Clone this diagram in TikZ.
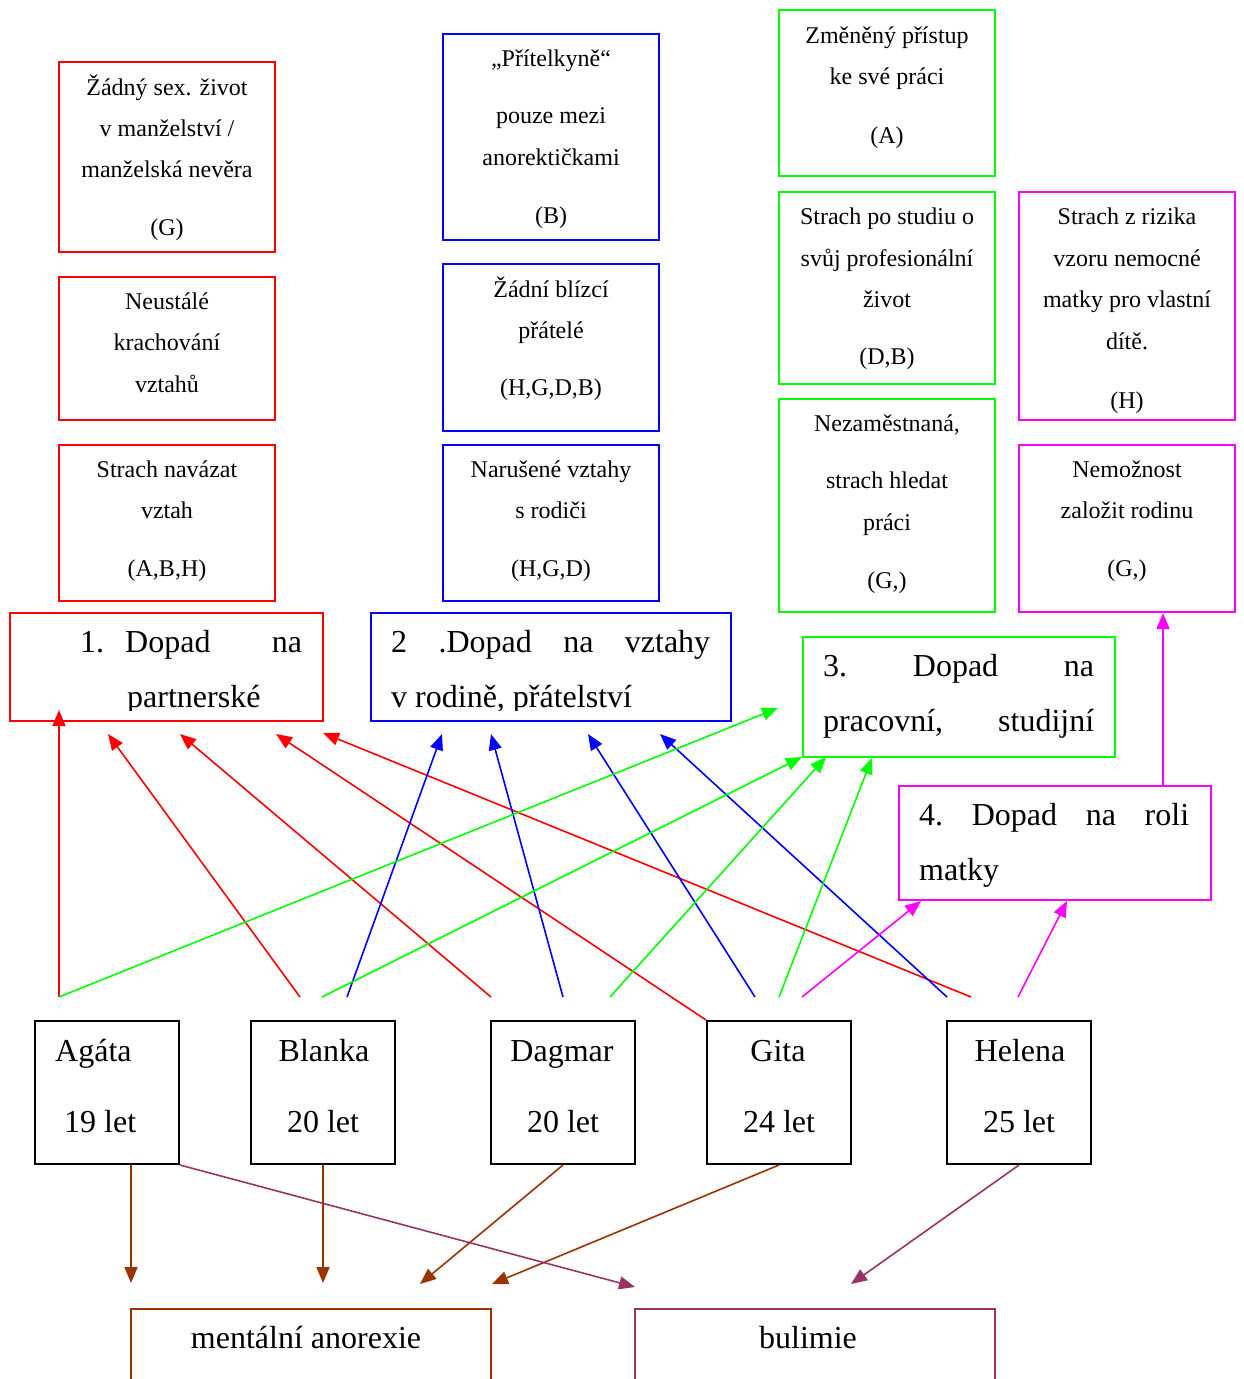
\documentclass[tikz,border=0pt]{standalone}
\usepackage{fontspec}
\setmainfont{Liberation Serif}
\usetikzlibrary{arrows.meta}
\definecolor{dbrown}{RGB}{153,51,0}
\definecolor{dpurple}{RGB}{153,51,102}
\definecolor{cred}{RGB}{255,0,0}
\definecolor{cblue}{RGB}{0,0,255}
\definecolor{cgreen}{RGB}{0,255,0}
\definecolor{cmag}{RGB}{255,0,255}
\newcommand\mkbox[6]{\node[bx,#2,minimum width={#5-#3},minimum height={#6-#4}] (#1) at ({(#3+#5)/2},{(#4+#6)/2}) {};}
\newcommand\tline[4]{\node[sm] (#1) at (#2,#3) {#4};}
\begin{document}
\begin{tikzpicture}[x=1pt,y=-1pt,
  sm/.style={anchor=base, inner sep=0pt, font=\fontsize{24}{28}\selectfont},
  lg/.style={anchor=base west, inner sep=0pt, font=\fontsize{32}{38}\selectfont},
  lgc/.style={lg, anchor=base},
  bx/.style={draw, line width=2pt, inner sep=0pt, rectangle},
  arr/.style={line width=1.6pt, -{Triangle[length=16pt,width=13pt]}},
]
\useasboundingbox (0,0) rectangle (1244,1379);

% ---- top boxes
\mkbox{r1}{draw=cred}{59}{62}{275}{252}
\mkbox{r2}{draw=cred}{59}{277}{275}{420}
\mkbox{r3}{draw=cred}{59}{445}{275}{601}
\mkbox{b1}{draw=cblue}{443}{34}{659}{240}
\mkbox{b2}{draw=cblue}{443}{264}{659}{431}
\mkbox{b3}{draw=cblue}{443}{445}{659}{601}
\mkbox{g1}{draw=cgreen}{779}{10}{995}{176}
\mkbox{g2}{draw=cgreen}{779}{192}{995}{384}
\mkbox{g3}{draw=cgreen}{779}{399}{995}{612}
\mkbox{m1}{draw=cmag}{1019}{192}{1235}{420}
\mkbox{m2}{draw=cmag}{1019}{445}{1235}{612}

\tline{r1a}{167}{95}{Žádný sex. život}
\tline{r1b}{167}{136}{v manželství /}
\tline{r1c}{167}{177}{manželská nevěra}
\tline{r1d}{167}{235}{(G)}
\tline{r2a}{167}{309}{Neustálé}
\tline{r2b}{167}{350}{krachování}
\tline{r2c}{167}{392}{vztahů}
\tline{r3a}{167}{477}{Strach navázat}
\tline{r3b}{167}{518}{vztah}
\tline{r3c}{167}{576}{(A,B,H)}

\tline{b1a}{551}{66}{„Přítelkyně“}
\tline{b1b}{551}{123}{pouze mezi}
\tline{b1c}{551}{165}{anorektičkami}
\tline{b1d}{551}{223}{(B)}
\tline{b2a}{551}{297}{Žádní blízcí}
\tline{b2b}{551}{338}{přátelé}
\tline{b2c}{551}{395}{(H,G,D,B)}
\tline{b3a}{551}{477}{Narušené vztahy}
\tline{b3b}{551}{518}{s rodiči}
\tline{b3c}{551}{576}{(H,G,D)}

\tline{g1a}{887}{43}{Změněný přístup}
\tline{g1b}{887}{84}{ke své práci}
\tline{g1c}{887}{143}{(A)}
\tline{g2a}{887}{224}{Strach po studiu o}
\tline{g2b}{887}{266}{svůj profesionální}
\tline{g2c}{887}{307}{život}
\tline{g2d}{887}{364}{(D,B)}
\tline{g3a}{887}{431}{Nezaměstnaná,}
\tline{g3b}{887}{488}{strach hledat}
\tline{g3c}{887}{530}{práci}
\tline{g3d}{887}{588}{(G,)}

\tline{m1a}{1127}{224}{Strach z rizika}
\tline{m1b}{1127}{266}{vzoru nemocné}
\tline{m1c}{1127}{307}{matky pro vlastní}
\tline{m1d}{1127}{349}{dítě.}
\tline{m1e}{1127}{408}{(H)}
\tline{m2a}{1127}{477}{Nemožnost}
\tline{m2b}{1127}{518}{založit rodinu}
\tline{m2c}{1127}{576}{(G,)}

% ---- category boxes
\mkbox{c1}{draw=cred}{10}{613}{323}{721}
\mkbox{c2}{draw=cblue}{371}{613}{731}{721}
\mkbox{c3}{draw=cgreen}{803}{637}{1115}{757}
\mkbox{c4}{draw=cmag}{899}{786}{1211}{900}

\node[lg] (c1a) at (80,652) {\hbox to 45pt{1.\hfill}\hbox to 177pt{Dopad\hfill na}};
\node[lg] (c2a) at (391,652) {\hbox to 319pt{2\hfill .Dopad\hfill na\hfill vztahy}};
\begin{scope}
  \clip (10,613) rectangle (731,710);
  \node[lg] (c1b) at (127,707) {partnerské};
  \node[lg] (c2b) at (391,707) {v rodině, přátelství};
\end{scope}
\node[lg] (c3a) at (823,676) {\hbox to 271pt{3.\hfill Dopad\hfill na}};
\node[lg] (c3b) at (823,731) {\hbox to 271pt{pracovní,\hfill studijní}};
\node[lg] (c4a) at (919,825) {\hbox to 270pt{4.\hfill Dopad\hfill na\hfill roli}};
\node[lg] (c4b) at (919,880) {matky};

% ---- persons
\mkbox{agata}{draw=black}{35}{1021}{179}{1164}
\mkbox{blanka}{draw=black}{251}{1021}{395}{1164}
\mkbox{dagmar}{draw=black}{491}{1021}{635}{1164}
\mkbox{gita}{draw=black}{707}{1021}{851}{1164}
\mkbox{helena}{draw=black}{947}{1021}{1091}{1164}

\node[lg] (agata1) at (55,1061) {Agáta};
\node[lg] (agata2) at (64,1132) {19 let};
\node[lgc] (blanka1) at (324,1061) {Blanka};
\node[lgc] (blanka2) at (323,1132) {20 let};
\node[lgc] (dagmar1) at (562,1061) {Dagmar};
\node[lgc] (dagmar2) at (563,1132) {20 let};
\node[lgc] (gita1) at (778,1061) {Gita};
\node[lgc] (gita2) at (779,1132) {24 let};
\node[lgc] (helena1) at (1020,1061) {Helena};
\node[lgc] (helena2) at (1019,1132) {25 let};

% ---- diseases
\mkbox{anor}{draw=dbrown}{131}{1309}{491}{1440}
\mkbox{bul}{draw=dpurple}{635}{1309}{995}{1440}
\node[lgc] (anort) at (306,1348) {mentální anorexie};
\node[lgc] (bult) at (808,1348) {bulimie};

% ---- coordinates for free ends
\coordinate (rA0) at (59,997);   \coordinate (rA1) at (59,710);
\coordinate (rB0) at (300,997);  \coordinate (rB1) at (108,734);
\coordinate (rD0) at (491,997);  \coordinate (rD1) at (180,734);
\coordinate (rG1) at (276,734);
\coordinate (rH0) at (971,997);  \coordinate (rH1) at (323,733);
\coordinate (bB0) at (347,997);  \coordinate (bB1) at (442,734);
\coordinate (bD0) at (563,997);  \coordinate (bD1) at (491,734);
\coordinate (bG0) at (755,997);  \coordinate (bG1) at (588,734);
\coordinate (bH0) at (947,997);  \coordinate (bH1) at (660,734);
\coordinate (gA1) at (778,708);
\coordinate (gB0) at (322,997);  \coordinate (gB1) at (802,757);
\coordinate (gD0) at (610,997);  \coordinate (gD1) at (826,757);
\coordinate (gG0) at (779,997);  \coordinate (gG1) at (872,758);
\coordinate (mG0) at (802,997);  \coordinate (mG1) at (921,901);
\coordinate (mH0) at (1018,997); \coordinate (mH1) at (1067,901);
\coordinate (an1) at (131,1283);
\coordinate (an2) at (323,1283);
\coordinate (an3) at (420,1284);
\coordinate (an4) at (492,1284);
\coordinate (bu1) at (635,1287);
\coordinate (bu2) at (851,1284);

% ---- red
\draw[arr, cred] (rA0) -- (rA1);
\draw[arr, cred] (rB0) -- (rB1);
\draw[arr, cred] (rD0) -- (rD1);
\draw[arr, cred] (gita.north west) -- (rG1);
\draw[arr, cred] (rH0) -- (rH1);
% ---- blue
\draw[arr, cblue] (bB0) -- (bB1);
\draw[arr, cblue] (bD0) -- (bD1);
\draw[arr, cblue] (bG0) -- (bG1);
\draw[arr, cblue] (bH0) -- (bH1);
% ---- green
\draw[arr, cgreen] (rA0) -- (gA1);
\draw[arr, cgreen] (gB0) -- (gB1);
\draw[arr, cgreen] (gD0) -- (gD1);
\draw[arr, cgreen] (gG0) -- (gG1);
% ---- magenta
\draw[arr, cmag] (mG0) -- (mG1);
\draw[arr, cmag] (mH0) -- (mH1);
\draw[arr, cmag] ([xshift=108pt]c4.north) -- ([xshift=36pt]m2.south);
% ---- diseases
\draw[arr, dbrown] ([xshift=24pt]agata.south) -- (an1);
\draw[arr, dbrown] (blanka.south) -- (an2);
\draw[arr, dbrown] (dagmar.south) -- (an3);
\draw[arr, dbrown] (gita.south) -- (an4);
\draw[arr, dpurple] (agata.south east) -- (bu1);
\draw[arr, dpurple] (helena.south) -- (bu2);
\end{tikzpicture}
\end{document}
